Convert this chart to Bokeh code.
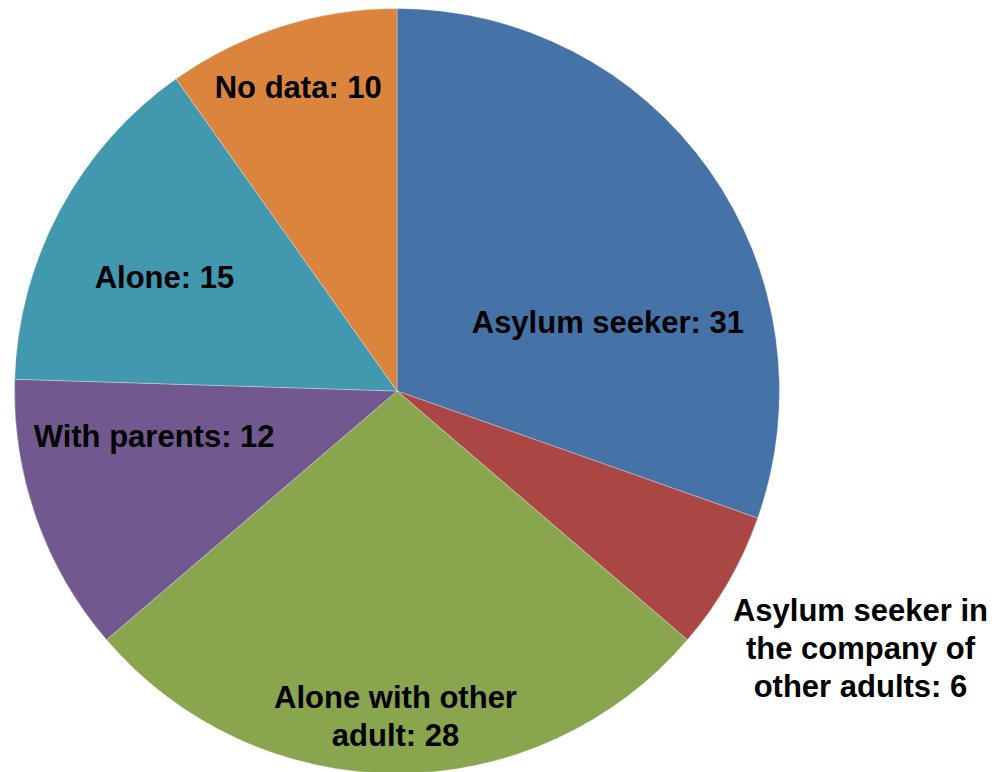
import math
from bokeh.plotting import figure
from bokeh.models import ColumnDataSource
from bokeh.core.properties import value
from bokeh.embed import file_html
from bokeh.resources import INLINE

# ---- data ----
categories = [
    "Asylum seeker",
    "Asylum seeker in the company of other adults",
    "Alone with other adult",
    "With parents",
    "Alone",
    "No data",
]
counts = [31, 6, 28, 12, 15, 10]
label_lines = [
    ["Asylum seeker: 31"],
    ["Asylum seeker in", "the company of", "other adults: 6"],
    ["Alone with other", "adult: 28"],
    ["With parents: 12"],
    ["Alone: 15"],
    ["No data: 10"],
]

# ---- style ----
colors = ["#4572A7", "#AA4643", "#89A54E", "#71588F", "#4198AF", "#DB843D"]
label_r = [0.580, 1.386, 0.852, 0.646, 0.677, 0.835]        # fraction of radius
label_dang = [-17.2, 0.95, -0.26, -8.8, 2.16, 0.36]          # degrees tweak from mid-angle
W, H = 999, 772
cx_px, cy_px = 396.5, 390.5
R = 382.5
FONT_PX = 31
LINE_H = 38

p = figure(width=W, height=H, output_backend="svg", toolbar_location=None,
           x_range=(-cx_px, W - cx_px), y_range=(-(H - cy_px), cy_px),
           min_border=0)
p.axis.visible = False
p.grid.visible = False
p.outline_line_color = None
p.background_fill_color = "white"
p.border_fill_color = "white"

total = float(sum(counts))
starts, ends, mids = [], [], []
cum = 0.0
for c in counts:
    a0 = math.pi / 2 - 2 * math.pi * cum / total
    cum += c
    a1 = math.pi / 2 - 2 * math.pi * cum / total
    starts.append(a0)
    ends.append(a1)
    mids.append((a0 + a1) / 2)

src = ColumnDataSource(dict(start=starts, end=ends, color=colors,
                            cat=categories, val=counts))
p.wedge(x=0, y=0, radius=R, start_angle="start", end_angle="end",
        direction="clock", fill_color="color", line_color="white",
        line_width=0.6, line_alpha=0.5, source=src)

tx, ty, tt, toff = [], [], [], []
for i, lines in enumerate(label_lines):
    ang = mids[i] + math.radians(label_dang[i])
    x = R * label_r[i] * math.cos(ang)
    y = R * label_r[i] * math.sin(ang)
    n = len(lines)
    for j, ln in enumerate(lines):
        tx.append(x)
        ty.append(y)
        tt.append(ln)
        toff.append((j - (n - 1) / 2) * LINE_H)

tsrc = ColumnDataSource(dict(x=tx, y=ty, t=tt, off=toff))
p.text(x="x", y="y", text="t", y_offset="off", source=tsrc,
       text_font=value("Liberation Sans"), text_font_style="bold",
       text_font_size=f"{FONT_PX}px", text_align="center",
       text_baseline="middle", text_color="black")

open("out.html", "w").write(file_html(p, INLINE))
